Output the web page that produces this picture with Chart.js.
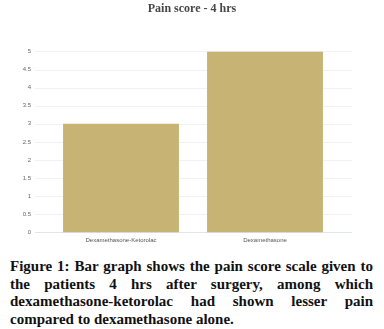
<!DOCTYPE html>
<html>
<head>
<meta charset="utf-8">
<script src="https://cdn.jsdelivr.net/npm/chart.js@4"></script>
<style>
  body { margin: 0; background: #fff; width: 384px; height: 329px; overflow: hidden; }
  #wrap { position: absolute; left: 0; top: 0; width: 384px; height: 254px; }
  #caption {
    position: absolute; left: 10px; top: 258px; width: 363px;
    font-family: "Liberation Serif", serif; font-weight: bold; font-size: 15px;
    line-height: 17.5px; text-align: justify; color: #111;
  }
</style>
</head>
<body>
<div id="wrap"><canvas id="chart" width="384" height="254"></canvas></div>
<div id="caption">Figure 1: Bar graph shows the pain score scale given to the patients 4 hrs after surgery, among which dexamethasone-ketorolac had shown lesser pain compared to dexamethasone alone.</div>
<script>
const chartTitle = 'Pain score - 4 hrs';
const groups = ['Dexamethasone-Ketorolac', 'Dexamethasone'];
const painScores = [3, 5];
const yTicks = [0, 0.5, 1, 1.5, 2, 2.5, 3, 3.5, 4, 4.5, 5];

// grid lines run a bit past the plot on both sides, so draw them by hand
const wideGrid = {
  id: 'wideGrid',
  beforeDatasetsDraw(chart) {
    const y = chart.scales.y;
    const ctx = chart.ctx;
    ctx.save();
    ctx.lineWidth = 1;
    yTicks.forEach(v => {
      const py = Math.round(y.getPixelForValue(v)) + 0.5;
      ctx.strokeStyle = v === 0 ? '#dfe6ec' : '#eef2f6';
      ctx.beginPath();
      ctx.moveTo(35, py);
      ctx.lineTo(352, py);
      ctx.stroke();
    });
    ctx.restore();
  }
};

new Chart(document.getElementById('chart').getContext('2d'), {
  type: 'bar',
  data: {
    labels: groups,
    datasets: [{
      label: chartTitle,
      data: painScores,
      backgroundColor: '#c7b373',
      barPercentage: 0.805,
      categoryPercentage: 1,
    }],
  },
  options: {
    responsive: false,
    animation: false,
    layout: { padding: 0 },
    plugins: {
      legend: { display: false },
      tooltip: { enabled: false },
      title: {
        display: true,
        text: chartTitle,
        color: '#474747',
        font: { family: 'Liberation Serif', size: 12, weight: 'bold' },
        padding: { top: 2, bottom: 35 },
      },
    },
    scales: {
      x: {
        grid: { display: false, drawTicks: false },
        border: { display: false },
        ticks: { color: '#555', font: { family: 'Liberation Sans', size: 6 }, padding: 4, maxRotation: 0 },
        afterFit(s) { s.height = 18.3; },
      },
      y: {
        min: 0,
        max: 5,
        afterBuildTicks(s) { s.ticks = yTicks.map(v => ({ value: v })); },
        grid: { display: false, drawTicks: false },
        border: { display: false },
        ticks: {
          color: '#666',
          font: { family: 'Liberation Sans', size: 6 },
          padding: 18,
          callback: v => String(v),
        },
        afterFit(s) { s.width = 49; },
      },
      // empty right-hand spacer so the plot is narrower while the title stays centred
      spacer: {
        position: 'right',
        grid: { display: false, drawTicks: false },
        border: { display: false },
        ticks: { display: false },
        afterFit(s) { s.width = 47; },
      },
    },
  },
  plugins: [wideGrid],
});
</script>
</body>
</html>
